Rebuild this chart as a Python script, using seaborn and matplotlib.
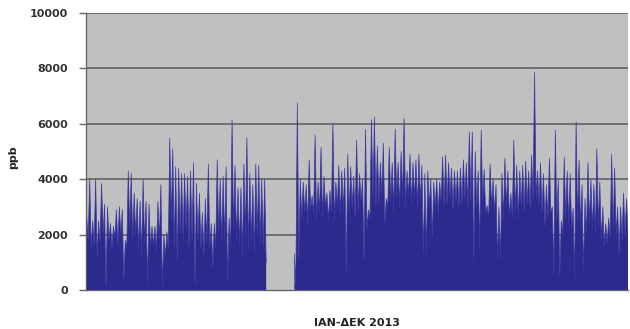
import numpy as np
import pandas as pd
import matplotlib
matplotlib.use("Agg")
import matplotlib.pyplot as plt
import seaborn as sns

nan = np.nan

# Two-day samples across 2013: local peak and local trough (ppb); NaN = missing data
peaks = [
    2600, 4000, 2500, 4000, 2500, 3850, 3100, 3000, 2400, 2300,
    2900, 3000, 2900, 1800, 4300, 4200, 3500, 3300, 3200, 4000,
    3200, 3100, 2300, 2300, 3200, 3800, 2000, 2100, 5480, 5100,
    4450, 4400, 4200, 4200, 4100, 4300, 4600, 3850, 3500, 2800,
    3300, 4550, 2400, 2400, 4700, 4000, 4100, 4450, 2600, 6140,
    4500, 3700, 3700, 4550, 5500, 4200, 3800, 4550, 4500, 4000,
    4000, nan, nan, nan, nan, nan, nan, nan, nan, nan,
    1300, 6750, 4000, 3900, 3800, 4700, 3400, 5600, 3900, 5150,
    4100, 3500, 3600, 6000, 3900, 4500, 4300, 4400, 4900, 4450,
    4100, 5400, 4200, 4000, 5800, 2900, 6150, 6250, 5200, 4600,
    5300, 3300, 5150, 4600, 5800, 4600, 5000, 6200, 4300, 4900,
    4600, 4700, 4900, 4500, 4200, 4300, 4000, 3900, 4000, 3900,
    4800, 4870, 4600, 4400, 4300, 4300, 4400, 4700, 4600, 5700,
    5700, 5000, 4300, 5770, 4350, 3050, 4550, 4000, 3800, 3000,
    4200, 4750, 4300, 3500, 5400, 4500, 4300, 4500, 4650, 4300,
    4870, 7870, 4300, 4600, 4200, 3800, 4750, 3000, 5770, 4000,
    2500, 4800, 4300, 4200, 2950, 6070, 4700, 3800, 3300, 4600,
    4000, 3800, 5100, 3900, 3000, 2400, 2600, 4900, 4400, 3000,
    3000, 3500, 3300,
]

troughs = [
    1800, 1500, 1600, 1200, 1700, 2000, 100, 1800, 1500, 1900,
    1600, 2000, 300, 1500, 2200, 1800, 2000, 1500, 1200, 1700,
    200, 1500, 1600, 1400, 1800, 100, 1200, 1500, 2500, 1500,
    1000, 2000, 1800, 2200, 1500, 1800, 200, 1800, 1500, 1200,
    1700, 1500, 800, 1500, 2000, 1700, 1800, 300, 1500, 2200,
    1800, 1600, 1200, 2000, 1500, 1800, 1300, 2000, 1700, 1500,
    1000, nan, nan, nan, nan, nan, nan, nan, nan, nan,
    200, 1100, 2600, 2800, 2400, 2900, 2700, 2500, 2800, 2600,
    3000, 2500, 2800, 2500, 3000, 2700, 2900, 600, 2800, 3000,
    2600, 2900, 3200, 1000, 2200, 2600, 3300, 3000, 3100, 3400,
    2400, 3000, 3200, 2800, 3300, 3000, 3300, 3000, 3400, 3100,
    3300, 3000, 3200, 1300, 1300, 3000, 1900, 3000, 2800, 3200,
    3000, 3100, 3300, 2900, 3200, 3000, 3100, 3300, 3000, 3200,
    1000, 3000, 1450, 3200, 2800, 2600, 3000, 2800, 1100, 1100,
    2600, 3000, 2600, 2600, 2800, 2600, 3000, 2800, 3100, 2900,
    3200, 3300, 3100, 2800, 2300, 2600, 2800, 600, 2500, 500,
    2000, 2600, 2400, 2200, 400, 2500, 2300, 650, 2000, 2400,
    2200, 2000, 2300, 1800, 1600, 1700, 1900, 2200, 2000, 1300,
    1800, 2000, 2000,
]

y_ticks = [0, 2000, 4000, 6000, 8000, 10000]
x_label = "IAN-ΔΕΚ 2013"
y_label = "ppb"

n = len(peaks)
day = np.empty(2 * n)
val = np.empty(2 * n)
day[0::2] = np.arange(n) * 2
day[1::2] = np.arange(n) * 2 + 1
val[0::2] = peaks
val[1::2] = troughs
df = pd.DataFrame({"day": day, "ppb": val})
# contiguous runs of valid data, so the line is not drawn across the gap
df["run"] = df["ppb"].isna().cumsum()

sns.set_theme(style="white")
plt.rcParams["font.family"] = ["DejaVu Sans"]

fig = plt.figure(figsize=(6.3, 3.29), dpi=100)
ax = fig.add_axes([86 / 630, 1 - 290 / 329, 542 / 630, 277 / 329])
ax.set_facecolor("#c0c0c0")

navy = "#2c2a8c"
ax.fill_between(df["day"], 0, df["ppb"], color=navy, lw=0, zorder=3)
sns.lineplot(data=df.dropna(), x="day", y="ppb", units="run", estimator=None,
             ax=ax, color="#3a37a0", lw=0.5, zorder=4)

ax.set_xlim(-0.5, 365)
ax.set_ylim(0, 10000)
ax.set_yticks(y_ticks)
ax.set_yticklabels([str(t) for t in y_ticks], fontsize=8, fontweight="bold",
                   color="#333333")
ax.set_xticks([])
for t in y_ticks[1:]:
    ax.axhline(t, color="#5a5a5a", lw=1.1, zorder=2)

ax.tick_params(axis="y", length=5, width=1, color="#666666", direction="out",
               pad=8, left=True)
for side in ["top", "right"]:
    ax.spines[side].set_visible(False)
ax.spines["left"].set_color("#666666")
ax.spines["left"].set_linewidth(1)
ax.spines["bottom"].set_color("#666666")
ax.spines["bottom"].set_linewidth(1)

ax.set_xlabel(x_label, fontsize=8, fontweight="bold", color="#222222", labelpad=20)
ax.set_ylabel(y_label, fontsize=8, fontweight="bold", color="#222222")
ax.yaxis.set_label_coords(-0.125, 0.48)

fig.savefig("out.png", dpi=100, facecolor="white")
